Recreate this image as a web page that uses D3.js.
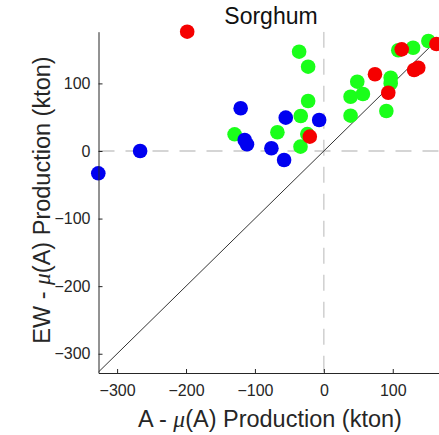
<!DOCTYPE html>
<html>
<head>
<meta charset="utf-8">
<script src="https://cdn.jsdelivr.net/npm/d3@7"></script>
<style>
  body { margin: 0; background: #fff; }
  text { font-family: "Liberation Sans", Arial, Helvetica, sans-serif; }
</style>
</head>
<body>
<div id="container"></div>
<script>
const WIDTH = 439,
      HEIGHT = 435;

const margin = { top: 31.7, bottom: 62, left: 98.5, right: -2 };

const width = WIDTH - margin.left - margin.right,
      height = HEIGHT - margin.top - margin.bottom;

// data (kton)
const greenX = [-35.9, -22.8, -22.8, -33.5, -67.4, -129.5, -33.9, -24, 48.5, 56.7, 38.8, 38.8, 90.7, 97, 97, 108, 129.5, 151.7];
const greenY = [146.9, 124.7, 74, 51.8, 27.7, 24.7, 6.4, 25, 102.5, 84.3, 80.3, 52.2, 59.2, 108.4, 100, 149, 152.8, 162.7];

const blueX = [-120.7, -55.3, -6.8, -114.9, -111.5, -76.1, -57.7, -266.6, -327.3];
const blueY = [63.2, 49.3, 45.9, 16.3, 9.9, 4, -13.3, 0, -33];

const redX = [-198.3, 113, 74.2, 93.5, 131, 137, 163.4, -20.4];
const redY = [176.5, 150.4, 113.5, 86.2, 119.8, 123.2, 158.3, 21.2];

const xTicks = [-300, -200, -100, 0, 100];
const yTicks = [-300, -200, -100, 0, 100];

const xDomain = [-327, 170],
      yDomain = [-328.5, 176.5];

const svg = d3.select('#container').append('svg')
    .attr("width", WIDTH).attr("height", HEIGHT);

const container = svg.append('g')
    .attr("transform", `translate(${margin.left}, ${margin.top})`);

const xScale = d3.scaleLinear().domain(xDomain).range([0, width]);
const yScale = d3.scaleLinear().domain(yDomain).range([height, 0]);

svg.append("clipPath").attr("id", "clip")
    .append("rect").attr("width", width).attr("height", height);

const plot = container.append("g").attr("clip-path", "url(#clip)");

// zero lines
plot.append("line")
    .attr("x1", 0).attr("x2", width)
    .attr("y1", yScale(0)).attr("y2", yScale(0))
    .attr("stroke", "#c8c8c8").attr("stroke-width", 1.3)
    .attr("stroke-dasharray", "16,11");

plot.append("line")
    .attr("x1", xScale(0)).attr("x2", xScale(0))
    .attr("y1", 0).attr("y2", height)
    .attr("stroke", "#c8c8c8").attr("stroke-width", 1.3)
    .attr("stroke-dasharray", "16,11");

// 1:1 line
plot.append("line")
    .attr("x1", xScale(-330)).attr("y1", yScale(-330))
    .attr("x2", xScale(200)).attr("y2", yScale(200))
    .attr("stroke", "#333").attr("stroke-width", 1);

const drawDots = (xs, ys, color) => {
    container.append("g")
        .selectAll("circle")
        .data(xs.map((x, i) => ({ x: x, y: ys[i] })))
        .join("circle")
        .attr("cx", (d) => xScale(d.x))
        .attr("cy", (d) => yScale(d.y))
        .attr("r", 7.3)
        .attr("fill", color);
};

drawDots(greenX, greenY, "#1aff1a");
drawDots(blueX, blueY, "#0000f0");
drawDots(redX, redY, "#f50000");

// axes, ticks inside like matlab
const xAxis = d3.axisBottom(xScale).tickValues(xTicks).tickSizeInner(-4).tickSizeOuter(0).tickPadding(12);
const yAxis = d3.axisLeft(yScale).tickValues(yTicks).tickSizeInner(-4).tickSizeOuter(0).tickPadding(8);

const gx = container.append("g")
    .attr("transform", `translate(0, ${height})`)
    .call(xAxis);

const gy = container.append("g").call(yAxis);

[gx, gy].forEach((g) => {
    g.select(".domain").attr("stroke", "#262626").attr("stroke-width", 1);
    g.selectAll(".tick line").attr("stroke", "#262626");
    g.selectAll(".tick text")
        .attr("fill", "#262626")
        .style("font-size", "16px")
        .style("font-family", "'Liberation Sans', Arial, sans-serif");
});

// title
svg.append("text")
    .attr("x", 271).attr("y", 24)
    .attr("text-anchor", "middle")
    .attr("fill", "#111")
    .style("font-size", "23px")
    .text("Sorghum");

// axis labels
const xLabel = svg.append("text")
    .attr("x", 270).attr("y", 427)
    .attr("text-anchor", "middle")
    .attr("fill", "#262626")
    .style("font-size", "23.5px");
xLabel.append("tspan").text("A - ");
xLabel.append("tspan").style("font-style", "italic").style("font-family", "'Liberation Serif', serif").text("\u03bc");
xLabel.append("tspan").text("(A) Production (kton)");

const yLabel = svg.append("text")
    .attr("transform", "translate(50, 200) rotate(-90)")
    .attr("text-anchor", "middle")
    .attr("fill", "#262626")
    .style("font-size", "23.5px");
yLabel.append("tspan").text("EW - ");
yLabel.append("tspan").style("font-style", "italic").style("font-family", "'Liberation Serif', serif").text("\u03bc");
yLabel.append("tspan").text("(A) Production (kton)");
</script>
</body>
</html>
